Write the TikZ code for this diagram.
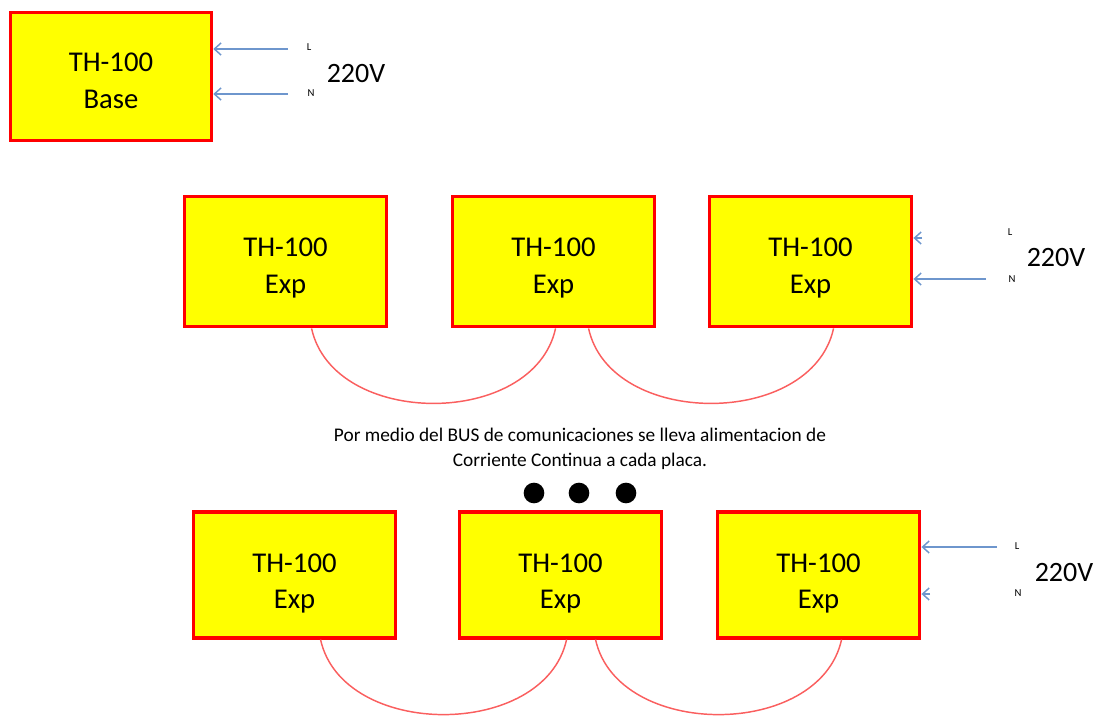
\documentclass[tikz,border=0pt]{standalone}
\usepackage{fontspec}
\setmainfont{Carlito}
\usetikzlibrary{calc,arrows.meta}
\definecolor{boxred}{RGB}{255,0,0}
\definecolor{boxyellow}{RGB}{255,255,0}
\definecolor{arrblue}{RGB}{110,150,205}
\definecolor{arcred}{RGB}{250,95,95}
\tikzset{
  th/.style={draw=boxred, line width=2.4pt, fill=boxyellow,
    minimum width=150pt, minimum height=96pt, inner sep=0pt},
  thtext/.style={align=center, inner sep=0pt, font=\fontsize{21.5}{27.5}\selectfont},
  pwr/.style={draw=arrblue, line width=1.1pt, -{Straight Barb[length=5pt,width=9pt]}},
  bus/.style={draw=arcred, line width=1.1pt},
  volt/.style={font=\fontsize{21}{24}\selectfont, inner sep=0pt},
  tiny/.style={font=\fontsize{8}{9}\selectfont, inner sep=0pt},
  note/.style={font=\fontsize{14.5}{18.75}\selectfont, align=center, inner sep=0pt},
  dot/.style={circle, fill=black, minimum size=15.5pt, inner sep=0pt}
}
\begin{document}
\begin{tikzpicture}[x=0.75pt,y=-0.75pt]
\useasboundingbox (0,0) rectangle (1097,717);
% base
\node[th, minimum width=151pt, minimum height=96.5pt] (base) at (111,76.5) {};
\node[thtext] (baset) at ($(base)+(0,4)$) {TH-100\\Base};
\coordinate (bL) at (288,49);
\coordinate (bN) at (288,94);
\draw[pwr] (bL) -- (bL -| base.east);
\draw[pwr] (bN) -- (bN -| base.east);
\node[tiny] (bLt) at (309,47) {L};
\node[tiny] (bNt) at (311,93) {N};
\node[volt] (bV) at (356,74) {220V};
% row 1
\node[th, minimum width=152pt, minimum height=98pt] (a1) at (285.5,261.5) {};
\node[th, minimum width=152pt, minimum height=98pt] (a2) at (553.5,261.5) {};
\node[th, minimum width=152pt, minimum height=98pt] (a3) at (810.5,261.5) {};
\node[thtext] (a1t) at ($(a1)+(0,6.5)$) {TH-100\\Exp};
\node[thtext] (a2t) at ($(a2)+(0,6.5)$) {TH-100\\Exp};
\node[thtext] (a3t) at ($(a3)+(0,6.5)$) {TH-100\\Exp};
\coordinate (aL) at (922,238);
\coordinate (aN) at (986,279);
\draw[pwr] (aL) -- (aL -| a3.east);
\draw[pwr] (aN) -- (aN -| a3.east);
\node[tiny] (aLt) at (1010,232) {L};
\node[tiny] (aNt) at (1012,279) {N};
\node[volt] (aV) at (1056,258) {220V};
\coordinate (a1s) at ($(a1.south west)+(129,0)$);
\coordinate (a2s) at ($(a2.south west)+(105,0)$);
\coordinate (a2r) at ($(a2.south west)+(138,0)$);
\coordinate (a3s) at ($(a3.south west)+(126,0)$);
\draw[bus] (a1s) .. controls ($(a1s)+(22,100)$) and ($(a2s)+(-22,100)$) .. (a2s);
\draw[bus] (a2r) .. controls ($(a2r)+(22,100)$) and ($(a3s)+(-22,100)$) .. (a3s);
% note
\node[note] (txt) at (580,449) {Por medio del BUS de comunicaciones se lleva alimentacion de\\Corriente Continua a cada placa.};
\node[dot] (d1) at (534,493) {};
\node[dot] (d2) at (579,493) {};
\node[dot] (d3) at (626,493) {};
% row 2
\node[th, minimum width=152pt, minimum height=94.5pt] (c1) at (294.5,575) {};
\node[th, minimum width=152pt, minimum height=94.5pt] (c2) at (560.5,575) {};
\node[th, minimum width=152pt, minimum height=94.5pt] (c3) at (818.5,575) {};
\node[thtext] (c1t) at ($(c1)+(0,8.5)$) {TH-100\\Exp};
\node[thtext] (c2t) at ($(c2)+(0,8.5)$) {TH-100\\Exp};
\node[thtext] (c3t) at ($(c3)+(0,8.5)$) {TH-100\\Exp};
\coordinate (cL) at (997,547);
\coordinate (cN) at (930,594);
\draw[pwr] (cL) -- (cL -| c3.east);
\draw[pwr] (cN) -- (cN -| c3.east);
\node[tiny] (cLt) at (1017,546) {L};
\node[tiny] (cNt) at (1018,593) {N};
\node[volt] (cV) at (1064,573) {220V};
\coordinate (c1s) at ($(c1.south west)+(129,0)$);
\coordinate (c2s) at ($(c2.south west)+(109,0)$);
\coordinate (c2r) at ($(c2.south west)+(138,0)$);
\coordinate (c3s) at ($(c3.south west)+(126,0)$);
\draw[bus] (c1s) .. controls ($(c1s)+(22,100)$) and ($(c2s)+(-22,100)$) .. (c2s);
\draw[bus] (c2r) .. controls ($(c2r)+(22,100)$) and ($(c3s)+(-22,100)$) .. (c3s);
\end{tikzpicture}
\end{document}
